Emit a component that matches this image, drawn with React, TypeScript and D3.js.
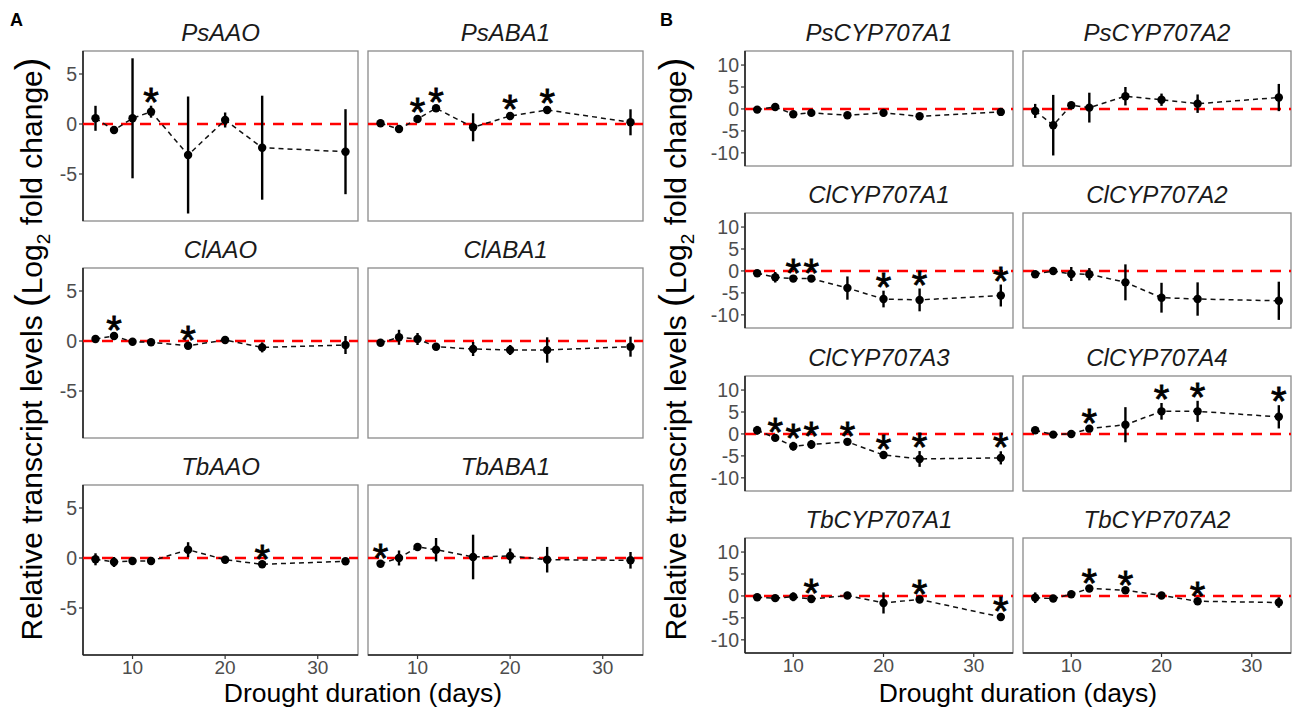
import React from 'react';
import * as d3 from 'd3';

const days = [6, 8, 10, 12, 16, 20, 24, 33];
const xTicks = [10, 20, 30];
const yTicksA = [-5, 0, 5];
const yTicksB = [-10, -5, 0, 5, 10];
const xDomain = [4.65, 34.35];
const yDomainA = [-9.7, 7.3];
const yDomainB = [-13, 13.2];

// Panel A genes
const genesA = ['PsAAO', 'PsABA1', 'ClAAO', 'ClABA1', 'TbAAO', 'TbABA1'];
const psAAOMean = [0.57, -0.6, 0.57, 1.23, -3.1, 0.4, -2.37, -2.77];
const psAAOErr = [1.25, 0.3, 6.0, 0.6, 5.85, 0.75, 5.2, 4.25];
const psAAOSig = [0, 0, 0, 1, 0, 0, 0, 0];
const psABA1Mean = [0.07, -0.5, 0.5, 1.57, -0.33, 0.8, 1.4, 0.17];
const psABA1Err = [0.35, 0.3, 0.3, 0.3, 1.4, 0.3, 0.3, 1.3];
const psABA1Sig = [0, 0, 1, 1, 0, 1, 1, 0];
const clAAOMean = [0.2, 0.5, -0.07, -0.13, -0.47, 0.1, -0.64, -0.4];
const clAAOErr = [0.2, 0.2, 0.2, 0.2, 0.2, 0.2, 0.5, 0.9];
const clAAOSig = [0, 1, 0, 0, 1, 0, 0, 0];
const clABA1Mean = [-0.17, 0.37, 0.2, -0.57, -0.8, -0.9, -0.9, -0.57];
const clABA1Err = [0.3, 0.75, 0.6, 0.2, 0.7, 0.5, 1.27, 1.0];
const clABA1Sig = [0, 0, 0, 0, 0, 0, 0, 0];
const tbAAOMean = [-0.13, -0.4, -0.3, -0.3, 0.83, -0.17, -0.63, -0.33];
const tbAAOErr = [0.6, 0.5, 0.3, 0.2, 0.75, 0.3, 0.2, 0.2];
const tbAAOSig = [0, 0, 0, 0, 0, 0, 1, 0];
const tbABA1Mean = [-0.57, 0, 1.1, 0.83, 0.1, 0.2, -0.17, -0.23];
const tbABA1Err = [0.2, 0.75, 0.2, 1.17, 2.23, 0.75, 1.28, 0.83];
const tbABA1Sig = [1, 0, 0, 0, 0, 0, 0, 0];

// Panel B genes
const genesB = ['PsCYP707A1', 'PsCYP707A2', 'ClCYP707A1', 'ClCYP707A2', 'ClCYP707A3', 'ClCYP707A4', 'TbCYP707A1', 'TbCYP707A2'];
const psA1Mean = [-0.15, 0.45, -1.2, -0.9, -1.44, -0.9, -1.67, -0.68];
const psA1Err = [0.4, 0.4, 0.4, 0.4, 0.4, 0.8, 0.4, 0.6];
const psA1Sig = [0, 0, 0, 0, 0, 0, 0, 0];
const psA2Mean = [-0.45, -3.7, 0.83, 0.3, 2.9, 2.1, 1.2, 2.6];
const psA2Err = [1.6, 6.9, 0.5, 3.4, 2.1, 1.4, 2.1, 3.1];
const psA2Sig = [0, 0, 0, 0, 0, 0, 0, 0];
const clA1Mean = [-0.53, -1.44, -1.74, -1.74, -3.9, -6.4, -6.6, -5.6];
const clA1Err = [0.5, 1.2, 0.4, 0.4, 2.65, 1.9, 2.6, 2.5];
const clA1Sig = [0, 0, 1, 1, 0, 1, 1, 1];
const clA2Mean = [-0.75, 0, -0.7, -0.75, -2.6, -6.1, -6.4, -6.8];
const clA2Err = [0.4, 0.3, 1.6, 1.4, 4.1, 3.4, 3.8, 4.35];
const clA2Sig = [0, 0, 0, 0, 0, 0, 0, 0];
const clA3Mean = [0.83, -0.9, -2.8, -2.4, -1.8, -4.8, -5.7, -5.45];
const clA3Err = [1.0, 0.4, 1.0, 1.0, 0.4, 0.5, 1.8, 1.5];
const clA3Sig = [0, 1, 1, 1, 1, 1, 1, 1];
const clA4Mean = [0.83, -0.15, 0, 1.2, 2.1, 5.15, 5.15, 3.9];
const clA4Err = [0.3, 0.3, 0.3, 0.4, 4.0, 1.9, 2.4, 2.65];
const clA4Sig = [0, 0, 0, 1, 0, 1, 1, 1];
const tbA1Mean = [-0.3, -0.5, -0.2, -0.7, 0.1, -1.6, -0.8, -4.8];
const tbA1Err = [0.4, 0.4, 1.0, 0.4, 0.3, 2.4, 0.4, 0.5];
const tbA1Sig = [0, 0, 0, 1, 0, 0, 1, 1];
const tbA2Mean = [-0.4, -0.6, 0.4, 1.7, 1.3, 0.1, -1.2, -1.5];
const tbA2Err = [1.2, 0.4, 0.4, 0.4, 0.4, 0.3, 0.4, 1.2];
const tbA2Sig = [0, 0, 0, 1, 1, 0, 1, 0];

const meansA = [psAAOMean, psABA1Mean, clAAOMean, clABA1Mean, tbAAOMean, tbABA1Mean];
const errsA = [psAAOErr, psABA1Err, clAAOErr, clABA1Err, tbAAOErr, tbABA1Err];
const sigsA = [psAAOSig, psABA1Sig, clAAOSig, clABA1Sig, tbAAOSig, tbABA1Sig];
const meansB = [psA1Mean, psA2Mean, clA1Mean, clA2Mean, clA3Mean, clA4Mean, tbA1Mean, tbA2Mean];
const errsB = [psA1Err, psA2Err, clA1Err, clA2Err, clA3Err, clA4Err, tbA1Err, tbA2Err];
const sigsB = [psA1Sig, psA2Sig, clA1Sig, clA2Sig, clA3Sig, clA4Sig, tbA1Sig, tbA2Sig];

const FONT = '"Liberation Sans", Arial, Helvetica, sans-serif';

type PanelProps = {
  title: string; mean: number[]; err: number[]; sig: number[];
  x0: number; y0: number; w: number; h: number;
  yDomain: number[]; yTicks: number[]; showY: boolean; showX: boolean;
};

function Panel({ title, mean, err, sig, x0, y0, w, h, yDomain, yTicks, showY, showX }: PanelProps) {
  const x = d3.scaleLinear().domain(xDomain).range([x0, x0 + w]);
  const y = d3.scaleLinear().domain(yDomain).range([y0 + h, y0]);
  const pts = days.map((d, i) => ({ d, m: mean[i], e: err[i], s: sig[i] }));
  const line = d3.line<any>().x(p => x(p.d)).y(p => y(p.m));
  const clipId = 'clip-' + title;
  return (
    <g>
      <defs>
        <clipPath id={clipId}><rect x={x0} y={y0} width={w} height={h} /></clipPath>
      </defs>
      <text x={x0 + w / 2} y={y0 - 10} textAnchor="middle" fontSize={24} fontStyle="italic" fontFamily={FONT} fill="#1a1a1a">{title}</text>
      <rect x={x0} y={y0} width={w} height={h} fill="white" stroke="#8a8a8a" strokeWidth={1.3} />
      {showY && <line x1={x0} x2={x0} y1={y0} y2={y0 + h} stroke="#222" strokeWidth={1.6} />}
      {showX && <line x1={x0} x2={x0 + w} y1={y0 + h} y2={y0 + h} stroke="#222" strokeWidth={1.6} />}
      {showY && yTicks.map(t => (
        <g key={'yt' + t}>
          <line x1={x0 - 4} x2={x0} y1={y(t)} y2={y(t)} stroke="#333" strokeWidth={1.2} />
          <text x={x0 - 6} y={y(t)} dy="0.36em" textAnchor="end" fontSize={19.5} fontFamily={FONT} fill="#4d4d4d">{t}</text>
        </g>
      ))}
      {showX && xTicks.map(t => (
        <g key={'xt' + t}>
          <line x1={x(t)} x2={x(t)} y1={y0 + h} y2={y0 + h + 4} stroke="#333" strokeWidth={1.2} />
          <text x={x(t)} y={y0 + h + 19} textAnchor="middle" fontSize={19} fontFamily={FONT} fill="#4d4d4d">{t}</text>
        </g>
      ))}
      <g clipPath={`url(#${clipId})`}>
        <line x1={x0} x2={x0 + w} y1={y(0)} y2={y(0)} stroke="#ff0000" strokeWidth={2.6} strokeDasharray="11,8" />
        <path d={line(pts) || ''} fill="none" stroke="#111" strokeWidth={1.5} strokeDasharray="5,4" />
        {pts.map((p, i) => (
          <line key={'e' + i} x1={x(p.d)} x2={x(p.d)} y1={y(p.m - p.e)} y2={y(p.m + p.e)} stroke="#000" strokeWidth={2.4} />
        ))}
        {pts.map((p, i) => (
          <circle key={'c' + i} cx={x(p.d)} cy={y(p.m)} r={4.2} fill="#000" />
        ))}
      </g>
      {pts.filter(p => p.s).map((p, i) => (
        <text key={'s' + i} x={x(p.d)} y={y(p.m + p.e) - 13} dy="0.58em" textAnchor="middle" fontSize={40} fontFamily={FONT} fill="#000" stroke="#000" strokeWidth={0.8}>*</text>
      ))}
    </g>
  );
}

export default function App() {
  const aCols = [83, 368];
  const aRows = [51, 268, 485];
  const aW = 275, aH = 170;
  const bCols = [745, 1023];
  const bRows = [51, 213, 376, 538];
  const bW = 268, bH = 115;
  return (
    <svg width={1293} height={708} style={{ position: 'absolute', left: 0, top: 0, background: 'white' }} fontFamily={FONT}>
      <rect width={1293} height={708} fill="white" />
      <text x={10} y={26} fontSize={18} fontWeight="bold" fontFamily={FONT}>A</text>
      <text x={660} y={26} fontSize={18} fontWeight="bold" fontFamily={FONT}>B</text>
      {genesA.map((g, i) => {
        const r = Math.floor(i / 2), c = i % 2;
        return <Panel key={g} title={g} mean={meansA[i]} err={errsA[i]} sig={sigsA[i]}
          x0={aCols[c]} y0={aRows[r]} w={aW} h={aH} yDomain={yDomainA} yTicks={yTicksA}
          showY={c === 0} showX={r === 2} />;
      })}
      {genesB.map((g, i) => {
        const r = Math.floor(i / 2), c = i % 2;
        return <Panel key={g} title={g} mean={meansB[i]} err={errsB[i]} sig={sigsB[i]}
          x0={bCols[c]} y0={bRows[r]} w={bW} h={bH} yDomain={yDomainB} yTicks={yTicksB}
          showY={c === 0} showX={r === 3} />;
      })}
      {[{ cx: 31, cy: 349 }, { cx: 675, cy: 349 }].map((p, i) => (
        <text key={'yl' + i} transform={`translate(${p.cx},${p.cy}) rotate(-90)`} textAnchor="middle" fontSize={30} fontFamily={FONT} fill="#000" dy="0.35em">
          Relative transcript levels <tspan fontSize={38}>(</tspan>Log<tspan fontSize={19} dy={8}>2</tspan><tspan dy={-8}> fold change</tspan><tspan fontSize={38}>)</tspan>
        </text>
      ))}
      <text x={363} y={702} textAnchor="middle" fontSize={26.5} fontFamily={FONT}>Drought duration (days)</text>
      <text x={1018} y={702} textAnchor="middle" fontSize={26.5} fontFamily={FONT}>Drought duration (days)</text>
    </svg>
  );
}
